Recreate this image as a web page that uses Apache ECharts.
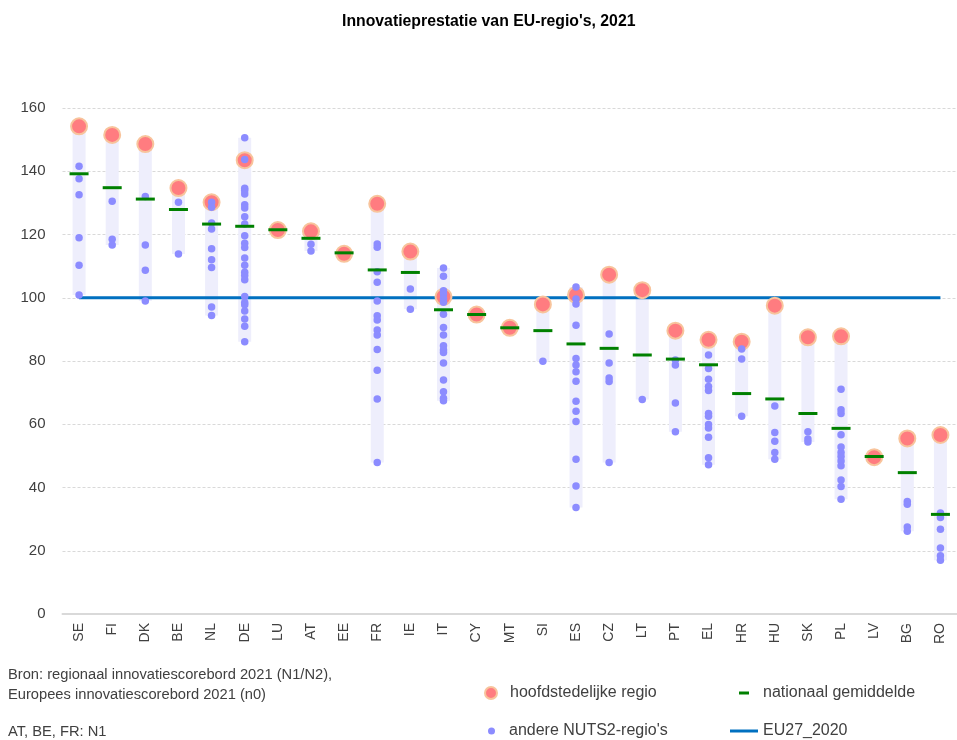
<!DOCTYPE html>
<html>
<head>
<meta charset="utf-8">
<script src="https://cdn.jsdelivr.net/npm/echarts@6/dist/echarts.min.js"></script>
<style>html,body{margin:0;padding:0;background:#fff}#c{width:957px;height:740px}</style>
</head>
<body>
<div id="c"></div>
<script>
const categories = ['SE','FI','DK','BE','NL','DE','LU','AT','EE','FR','IE','IT','CY','MT','SI','ES','CZ','LT','PT','EL','HR','HU','SK','PL','LV','BG','RO'];
const capital = [154.2,151.5,148.6,134.7,130.2,143.5,121.4,121.0,113.9,129.7,114.6,100.3,94.7,90.5,97.9,100.9,107.3,102.4,89.6,86.7,86.1,97.5,87.5,87.8,49.6,55.5,56.6];
const national = [139.2,134.8,131.2,127.9,123.3,122.6,121.5,118.8,114.2,108.8,108.0,96.2,94.7,90.5,89.6,85.4,84.0,81.9,80.6,78.8,69.7,68.0,63.4,58.7,49.8,44.7,31.5];
const eu27 = [100,100,100,100,100,100,100,100,100,100,100,100,100,100,100,100,100,100,100,100,100,100,100,100,100,100,100];
const othersSE = [141.6,137.6,132.6,119.0,110.3,100.9];
const othersFI = [130.5,118.5,116.7];
const othersDK = [132.0,116.7,108.7,99.0];
const othersBE = [130.2,113.8];
const othersNL = [130.2,128.6,123.6,121.7,115.5,112.0,109.6,97.1,94.4];
const othersDE = [150.6,143.7,134.6,133.9,132.8,129.4,128.4,125.6,123.3,119.6,117.2,115.9,112.6,110.3,108.1,107.0,105.7,100.4,98.5,97.8,95.8,93.3,91.0,86.1];
const othersLU = [];
const othersAT = [116.9,114.8];
const othersEE = [];
const othersFR = [117.0,116.0,108.2,104.9,99.0,94.3,93.0,89.8,88.2,83.6,77.1,68.0,47.9];
const othersIE = [102.8,96.4];
const othersIT = [109.4,106.8,102.2,101.2,99.8,98.6,94.8,90.6,88.2,84.8,83.5,82.7,79.4,74.0,70.3,68.2,67.4];
const othersCY = [];
const othersMT = [];
const othersSI = [79.9];
const othersES = [103.4,99.6,98.0,91.3,80.8,78.7,76.6,73.6,67.3,64.1,60.9,48.9,40.5,33.7];
const othersCZ = [88.5,79.4,74.6,73.5,47.9];
const othersLT = [67.8];
const othersPT = [80.3,78.7,66.7,57.6];
const othersEL = [81.9,77.6,74.2,71.9,70.7,63.4,62.5,59.9,58.8,55.9,49.4,47.2];
const othersHR = [83.8,80.6,62.5];
const othersHU = [65.8,57.4,54.6,51.1,48.9];
const othersSK = [57.6,55.3,54.4];
const othersPL = [71.1,64.6,63.4,56.7,52.8,51.1,49.8,48.4,46.9,42.4,40.3,36.3];
const othersLV = [];
const othersBG = [35.6,34.7,27.5,26.2];
const othersRO = [31.9,30.5,26.8,20.9,18.4,17.0];
const yTicks = [0,20,40,60,80,100,120,140,160];

const others = [othersSE,othersFI,othersDK,othersBE,othersNL,othersDE,othersLU,othersAT,othersEE,othersFR,othersIE,othersIT,othersCY,othersMT,othersSI,othersES,othersCZ,othersLT,othersPT,othersEL,othersHR,othersHU,othersSK,othersPL,othersLV,othersBG,othersRO];

const FONT = "'Liberation Sans', Arial, sans-serif";
const rangeMin = [], rangeLen = [], otherPts = [];
categories.forEach((c, i) => {
  const vals = [capital[i], national[i]].concat(others[i]);
  const mn = Math.min.apply(null, vals), mx = Math.max.apply(null, vals);
  rangeMin.push(mn);
  rangeLen.push(+(mx - mn).toFixed(2));
  others[i].forEach(v => otherPts.push([i, v]));
});

const chart = echarts.init(document.getElementById('c'), null, {renderer: 'canvas'});
chart.setOption({
  animation: false,
  backgroundColor: '#fff',
  title: {
    text: "Innovatieprestatie van EU-regio's, 2021",
    left: 342, top: 14, padding: 0,
    textStyle: {fontFamily: FONT, fontSize: 15.8, fontWeight: 'bold', color: '#000'}
  },
  grid: {left: 62.5, top: 108, width: 902, bottom: 126, containLabel: false},
  xAxis: {
    type: 'category', data: categories,
    axisLine: {show: true, lineStyle: {color: '#D9D9D9', width: 2}},
    axisTick: {show: false},
    axisLabel: {rotate: 90, margin: 9, fontFamily: FONT, fontSize: 14, color: '#404040', interval: 0},
    splitLine: {show: false}
  },
  yAxis: {
    type: 'value', min: yTicks[0], max: yTicks[yTicks.length - 1], interval: 20,
    axisLine: {show: false}, axisTick: {show: false},
    axisLabel: {margin: 17, fontFamily: FONT, fontSize: 15, color: '#404040'},
    splitLine: {show: true, lineStyle: {color: '#D9D9D9', type: [3, 2], width: 1}}
  },
  legend: [
    {data: ['hoofdstedelijke regio'], left: 484, top: 683, padding: 0, icon: 'circle', itemWidth: 12, itemHeight: 12,
     textStyle: {fontFamily: FONT, fontSize: 16, color: '#404040', lineHeight: 20, padding: [0, 0, 0, 8]}},
    {data: ['nationaal gemiddelde'], left: 739, top: 683, padding: 0, icon: 'rect', itemWidth: 10, itemHeight: 3,
     textStyle: {fontFamily: FONT, fontSize: 16, color: '#404040', lineHeight: 20, padding: [0, 0, 0, 9]}},
    {data: ["andere NUTS2-regio's"], left: 488, top: 721, padding: 0, icon: 'circle', itemWidth: 7, itemHeight: 7,
     textStyle: {fontFamily: FONT, fontSize: 16, color: '#404040', lineHeight: 20, padding: [0, 0, 0, 9]}},
    {data: ['EU27_2020'], left: 730, top: 721, padding: 0, icon: 'rect', itemWidth: 28, itemHeight: 3,
     textStyle: {fontFamily: FONT, fontSize: 16, color: '#404040', lineHeight: 20}}
  ],
  graphic: [
    {type: 'text', left: 8, top: 667, style: {text: 'Bron: regionaal innovatiescorebord 2021 (N1/N2),', font: '14.7px ' + FONT, fill: '#404040'}},
    {type: 'text', left: 8, top: 687, style: {text: 'Europees innovatiescorebord 2021 (n0)', font: '14.7px ' + FONT, fill: '#404040'}},
    {type: 'text', left: 8, top: 724, style: {text: 'AT, BE, FR: N1', font: '14.7px ' + FONT, fill: '#404040'}}
  ],
  series: [
    {name: 'rangeBase', type: 'bar', stack: 'r', data: rangeMin, barWidth: 13, silent: true, z: 1,
     itemStyle: {color: 'rgba(0,0,0,0)'}},
    {name: 'range', type: 'bar', stack: 'r', data: rangeLen, barWidth: 13, silent: true, z: 1,
     itemStyle: {color: '#EEEEFC'}},
    {name: 'EU27_2020', type: 'line', data: eu27, showSymbol: false, symbol: 'none', z: 2,
     lineStyle: {color: '#0070C0', width: 3}, itemStyle: {color: '#0070C0'}},
    {name: 'hoofdstedelijke regio', type: 'scatter', z: 3,
     data: capital.map((v, i) => [i, v]), symbol: 'circle', symbolSize: 16,
     itemStyle: {color: '#FF7C80', borderColor: '#F8C49C', borderWidth: 2, opacity: 1}},
    {name: "andere NUTS2-regio's", type: 'scatter', z: 4,
     data: otherPts, symbol: 'circle', symbolSize: 7.5,
     itemStyle: {color: '#8C8CFF', opacity: 1}},
    {name: 'nationaal gemiddelde', type: 'scatter', z: 5,
     data: national.map((v, i) => [i, v]), symbol: 'rect', symbolSize: [19, 3],
     itemStyle: {color: '#008000', opacity: 1}}
  ]
});
</script>
</body>
</html>
